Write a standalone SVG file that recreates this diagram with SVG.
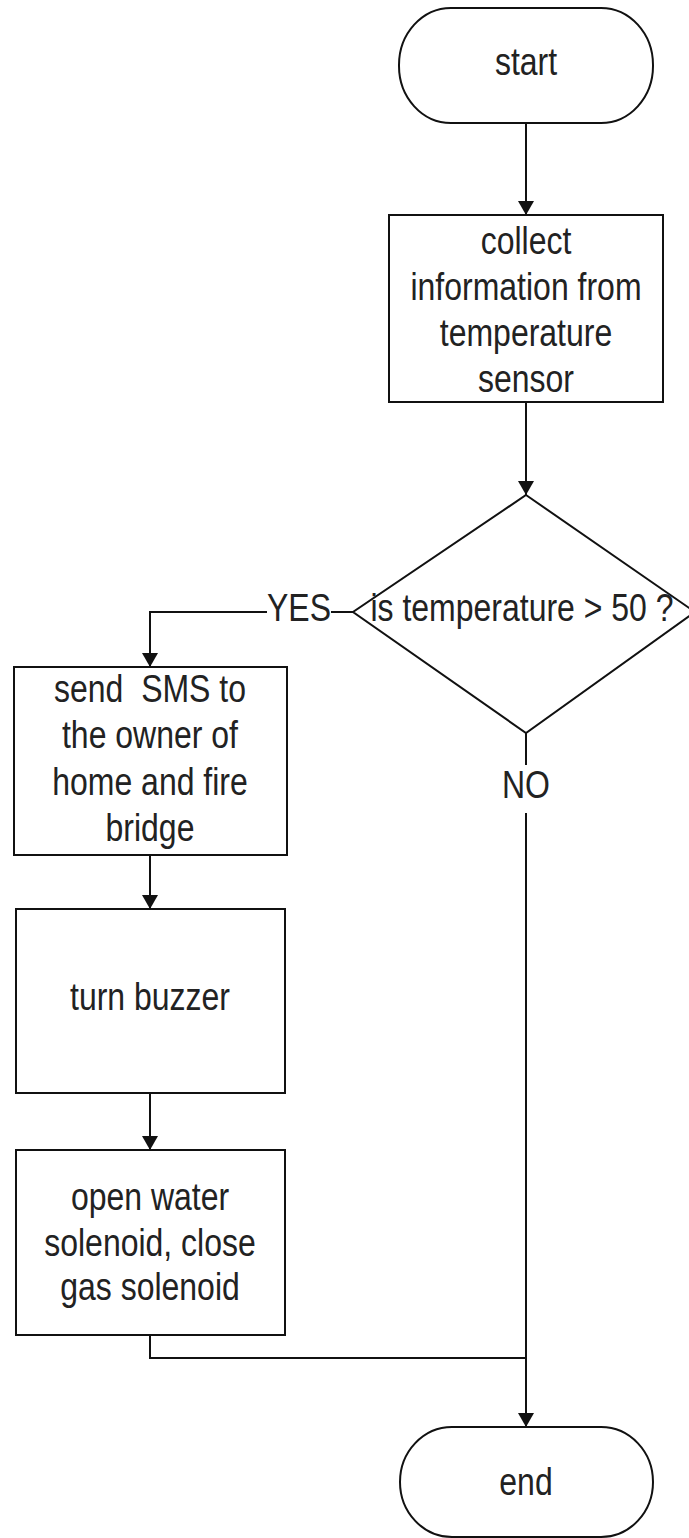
<svg xmlns="http://www.w3.org/2000/svg" width="689" height="1538" viewBox="0 0 689 1538">
<style>
.shape{fill:#fff;stroke:#111;stroke-width:2}
.conn{fill:none;stroke:#111;stroke-width:2}
.t{font-family:"Liberation Sans",Arial,sans-serif;font-size:32px;fill:#222;text-anchor:middle;white-space:pre}
</style>
<defs>
<marker id="arr" viewBox="0 0 14 16" refX="14" refY="8" markerWidth="14" markerHeight="16" markerUnits="userSpaceOnUse" orient="auto">
<path d="M0,0 L14,8 L0,16 Z" fill="#111"/>
</marker>
</defs>
<rect width="689" height="1538" fill="#fff"/>
<g id="connectors">
<line class="conn" x1="526" y1="123" x2="526" y2="215" marker-end="url(#arr)"/>
<line class="conn" x1="526" y1="402" x2="526" y2="495" marker-end="url(#arr)"/>
<polyline class="conn" points="353,612 331,612"/>
<polyline class="conn" points="267,612 150,612 150,667" marker-end="url(#arr)"/>
<line class="conn" x1="150" y1="855" x2="150" y2="909" marker-end="url(#arr)"/>
<line class="conn" x1="150" y1="1093" x2="150" y2="1150" marker-end="url(#arr)"/>
<polyline class="conn" points="150,1335 150,1358 526,1358"/>
<line class="conn" x1="526" y1="733" x2="526" y2="765"/>
<line class="conn" x1="526" y1="813" x2="526" y2="1427" marker-end="url(#arr)"/>
<text class="t" transform="translate(299,621) scale(1,1.2)">YES</text>
<text class="t" transform="translate(526,798) scale(1,1.2)">NO</text>
</g>
<g id="start">
<rect class="shape" x="399" y="8" width="254" height="115" rx="52" ry="57"/>
<text class="t" transform="translate(526,75) scale(1,1.2)">start</text>
</g>
<g id="collect">
<rect class="shape" x="389" y="215" width="274" height="187"/>
<text class="t" transform="translate(526,254) scale(1,1.2)">collect</text>
<text class="t" transform="translate(526,300) scale(1,1.2)">information from</text>
<text class="t" transform="translate(526,346) scale(1,1.2)">temperature</text>
<text class="t" transform="translate(526,392) scale(1,1.2)">sensor</text>
</g>
<g id="decision">
<polygon class="shape" points="526,495 695,612 526,733 353,612"/>
<text class="t" transform="translate(522,621) scale(1,1.2)">is temperature &gt; 50 ?</text>
</g>
<g id="sms">
<rect class="shape" x="14" y="667" width="273" height="188"/>
<text class="t" transform="translate(150,702) scale(1,1.2)">send  SMS to</text>
<text class="t" transform="translate(150,748) scale(1,1.2)">the owner of</text>
<text class="t" transform="translate(150,795) scale(1,1.2)">home and fire</text>
<text class="t" transform="translate(150,841) scale(1,1.2)">bridge</text>
</g>
<g id="buzzer">
<rect class="shape" x="16" y="909" width="269" height="184"/>
<text class="t" transform="translate(150,1010) scale(1,1.2)">turn buzzer</text>
</g>
<g id="solenoid">
<rect class="shape" x="16" y="1150" width="269" height="185"/>
<text class="t" transform="translate(150,1210) scale(1,1.2)">open water</text>
<text class="t" transform="translate(150,1256) scale(1,1.2)">solenoid, close</text>
<text class="t" transform="translate(150,1300) scale(1,1.2)">gas solenoid</text>
</g>
<g id="end">
<rect class="shape" x="400" y="1427" width="253" height="110" rx="52" ry="55"/>
<text class="t" transform="translate(526,1495) scale(1,1.2)">end</text>
</g>
</svg>
